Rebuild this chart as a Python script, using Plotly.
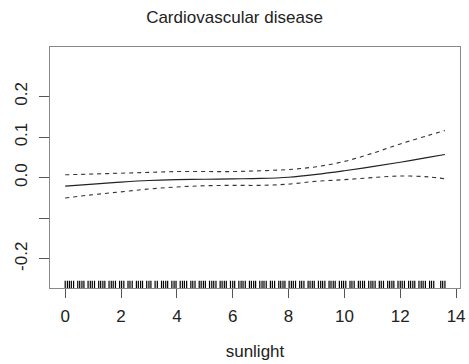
import plotly.graph_objects as go

# Data
x_grid = [0, 1, 2, 3, 4, 5, 6, 7, 8, 9, 10, 11, 12, 13, 13.6]
fit = [-0.021, -0.016, -0.011, -0.007, -0.005, -0.004, -0.003, -0.002, 0.001, 0.008, 0.017, 0.027, 0.038, 0.050, 0.057]
upper = [0.007, 0.009, 0.011, 0.013, 0.015, 0.015, 0.015, 0.017, 0.020, 0.027, 0.040, 0.060, 0.083, 0.104, 0.116]
lower = [-0.050, -0.042, -0.035, -0.028, -0.023, -0.020, -0.019, -0.019, -0.016, -0.009, -0.005, 0.000, 0.004, 0.002, -0.003]

rug_x = [0.0, 0.08, 0.15, 0.22, 0.3, 0.45, 0.52, 0.6, 0.67, 0.82, 0.9, 0.97, 1.05, 1.2, 1.27, 1.35, 1.42,
         1.57, 1.65, 1.72, 1.8, 1.95, 2.02, 2.1, 2.25, 2.32, 2.4, 2.55, 2.62, 2.7, 2.77, 2.92, 3.0, 3.07,
         3.22, 3.3, 3.45, 3.52, 3.6, 3.67, 3.82, 3.9, 3.97, 4.12, 4.2, 4.27, 4.35, 4.5, 4.57, 4.65, 4.8,
         4.87, 4.95, 5.02, 5.17, 5.25, 5.32, 5.4, 5.55, 5.62, 5.7, 5.77, 5.92, 6.0, 6.07, 6.22, 6.3,
         6.37, 6.45, 6.6, 6.67, 6.75, 6.82, 6.97, 7.05, 7.12, 7.2, 7.35, 7.42, 7.5, 7.65, 7.72, 7.8,
         7.87, 8.02, 8.1, 8.17, 8.25, 8.4, 8.47, 8.55, 8.7, 8.77, 8.85, 8.92, 9.07, 9.15, 9.22, 9.3,
         9.45, 9.52, 9.6, 9.67, 9.82, 9.9, 9.97, 10.05, 10.2, 10.27, 10.35, 10.5, 10.57, 10.65, 10.72,
         10.87, 10.95, 11.02, 11.1, 11.25, 11.32, 11.4, 11.55, 11.62, 11.7, 11.77, 11.92, 12.0, 12.07,
         12.15, 12.3, 12.37, 12.45, 12.52, 12.67, 12.75, 12.82, 12.9, 13.05, 13.12, 13.2, 13.45, 13.52, 13.6]

x_ticks = [0, 2, 4, 6, 8, 10, 12, 14]
y_ticks = [-0.2, -0.1, 0.0, 0.1, 0.2]
y_tick_text = ["-0.2", "", "0.0", "0.1", "0.2"]

x_range = [-0.544, 14.14]
y_range = [-0.272, 0.322]

rug_h = 0.018
rx, ry = [], []
for v in rug_x:
    rx += [v, v, None]
    ry += [y_range[0], y_range[0] + rug_h, None]

fig = go.Figure()
fig.add_trace(go.Scatter(x=rx, y=ry, mode="lines", line=dict(color="#000", width=1.2), hoverinfo="skip"))
fig.add_trace(go.Scatter(x=x_grid, y=fit, mode="lines", line=dict(color="#222", width=1.2, shape="spline")))
fig.add_trace(go.Scatter(x=x_grid, y=upper, mode="lines", line=dict(color="#333", width=1.1, dash="4px,4px", shape="spline")))
fig.add_trace(go.Scatter(x=x_grid, y=lower, mode="lines", line=dict(color="#333", width=1.1, dash="4px,4px", shape="spline")))

font = "Liberation Sans, Arial, sans-serif"
fig.update_layout(
    width=469, height=364,
    margin=dict(l=50, r=9, t=47, b=76),
    paper_bgcolor="white", plot_bgcolor="white",
    showlegend=False,
    font=dict(family=font, size=17, color="#222"),
    title=dict(text="Cardiovascular disease", x=0.5, xanchor="center", y=1 - 17 / 364, yanchor="middle",
               font=dict(family=font, size=17, color="#222")),
    xaxis=dict(range=x_range, tickvals=x_ticks, showgrid=False, zeroline=False, automargin=False,
               showline=True, mirror=True, linecolor="#888", linewidth=1,
               ticks="outside", ticklen=9, tickcolor="#555", tickwidth=1,
               tickfont=dict(size=17), ticklabelstandoff=4,
               title=dict(text="sunlight", font=dict(size=17), standoff=19)),
    yaxis=dict(range=y_range, tickvals=y_ticks, ticktext=y_tick_text, showgrid=False, zeroline=False,
               automargin=False,
               showline=True, mirror=True, linecolor="#888", linewidth=1,
               ticks="outside", ticklen=10, tickcolor="#555", tickwidth=1,
               tickangle=-90, tickfont=dict(size=17), ticklabelstandoff=5),
)

fig.write_html("out.html")
